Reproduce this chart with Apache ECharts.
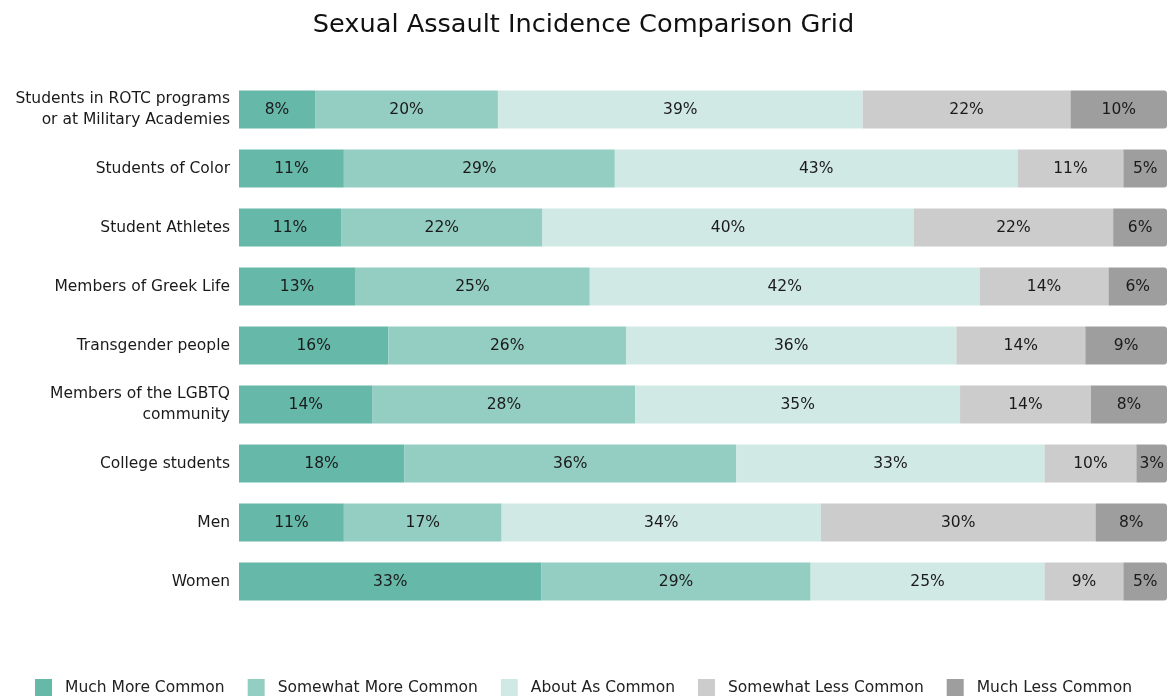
<!DOCTYPE html>
<html>
<head>
<meta charset="utf-8">
<script src="https://cdn.jsdelivr.net/npm/echarts@6/dist/echarts.min.js"></script>
<style>
    html, body {margin: 0; padding: 0; background: #fff;}
    #chart {width: 1167px; height: 696px;}
</style>
</head>
<body>
<div id="chart"></div>
<script>
// 类别（从上到下）
const groups = [
    'Students in ROTC programs\nor at Military Academies',
    'Students of Color',
    'Student Athletes',
    'Members of Greek Life',
    'Transgender people',
    'Members of the LGBTQ\ncommunity',
    'College students',
    'Men',
    'Women'
];
const levelNames = ['Much More Common', 'Somewhat More Common', 'About As Common', 'Somewhat Less Common', 'Much Less Common'];
const levelColors = ['#66b8a8', '#94cdc2', '#d1e9e4', '#cccccc', '#9e9e9e'];

// 各等级百分比（顺序同 groups）
const muchMore     = [8.2, 11.3, 11.0, 12.5, 16.1, 14.4, 17.8, 11.3, 32.6];
const somewhatMore = [19.7, 29.2, 21.7, 25.3, 25.6, 28.3, 35.8, 17.0, 29.0];
const aboutAs      = [39.3, 43.4, 40.0, 42.0, 35.6, 35.0, 33.2, 34.4, 25.2];
const somewhatLess = [22.4, 11.4, 21.5, 13.9, 13.9, 14.1, 9.9, 29.6, 8.5];
const muchLess     = [10.4, 4.7, 5.8, 6.3, 8.8, 8.2, 3.3, 7.7, 4.7];

const allValues = [muchMore, somewhatMore, aboutAs, somewhatLess, muchLess];
const fontName = "'DejaVu Sans', sans-serif";

let chart = echarts.init(document.getElementById('chart'));

let seriesList = [];
for (let i = 0; i < levelNames.length; i++) {
    seriesList.push({
        name: levelNames[i],
        type: 'bar',
        stack: 'total',
        barWidth: 38,
        data: allValues[i],
        itemStyle: {
            color: levelColors[i],
            borderRadius: i === levelNames.length - 1 ? [0, 3, 3, 0] : 0
        },
        label: {
            show: true,
            position: 'inside',
            color: '#1a1a1a',
            fontFamily: fontName,
            fontSize: 15.5,
            formatter: function (p) {
                return Math.round(p.value) + '%';
            }
        },
        emphasis: {disabled: true}
    });
}

let option = {
    animation: false,
    title: {
        text: 'Sexual Assault Incidence Comparison Grid',
        left: 'center',
        top: 7,
        textStyle: {
            fontFamily: fontName,
            fontSize: 25.6,
            fontWeight: 'normal',
            color: '#111'
        }
    },
    legend: {
        data: levelNames,
        left: 'center',
        top: 679,
        padding: 0,
        itemWidth: 17,
        itemHeight: 17,
        itemGap: 23,
        icon: 'rect',
        textStyle: {
            fontFamily: fontName,
            fontSize: 15.5,
            color: '#222',
            padding: [0, 0, 0, 8]
        }
    },
    grid: {
        left: 239,
        right: 0,
        top: 80,
        bottom: 85,
        containLabel: false
    },
    xAxis: {
        type: 'value',
        min: 0,
        max: 100,
        show: false
    },
    yAxis: {
        type: 'category',
        data: groups,
        inverse: true,
        axisLine: {show: false},
        axisTick: {show: false},
        axisLabel: {
            margin: 9,
            fontFamily: fontName,
            fontSize: 15.5,
            lineHeight: 21,
            color: '#1a1a1a',
            align: 'right'
        }
    },
    series: seriesList
};

chart.setOption(option);
</script>
</body>
</html>
